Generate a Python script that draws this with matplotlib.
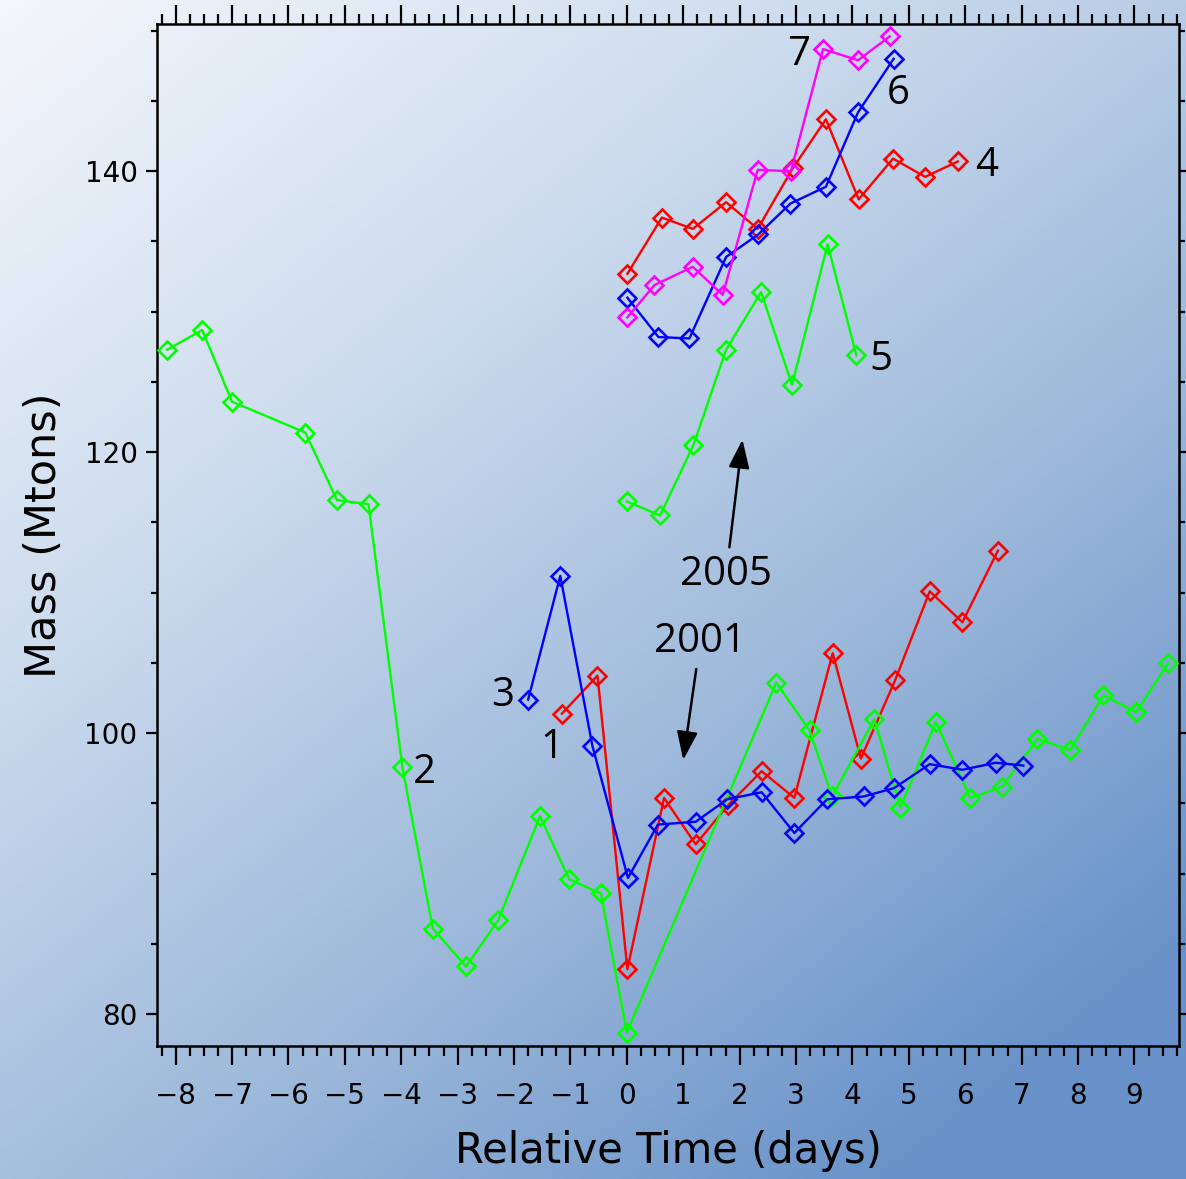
import numpy as np
import matplotlib
matplotlib.use("Agg")
import matplotlib.pyplot as plt
from matplotlib.ticker import MultipleLocator, FixedLocator

# ---------------- data ----------------
# 2001 events
s1_x = [-1.15, -0.52, 0.01, 0.66, 1.22, 1.80, 2.39, 2.97, 3.65, 4.15, 4.76, 5.37, 5.95, 6.58]
s1_y = [101.4, 104.1, 83.2, 95.4, 92.1, 94.9, 97.3, 95.4, 105.7, 98.2, 103.8, 110.1, 107.9, 113.0]

s2_x = [-8.15, -7.53, -7.00, -5.70, -5.14, -4.58, -3.98, -3.44, -2.85, -2.28, -1.54, -1.02, -0.46, 0.00,
        2.65, 3.24, 3.64, 4.39, 4.85, 5.48, 6.09, 6.66, 7.28, 7.86, 8.45, 9.03, 9.60]
s2_y = [127.3, 128.7, 123.6, 121.4, 116.6, 116.3, 97.6, 86.1, 83.4, 86.7, 94.1, 89.6, 88.6, 78.7,
        103.6, 100.2, 95.5, 101.0, 94.7, 100.8, 95.4, 96.2, 99.6, 98.8, 102.7, 101.5, 105.0]

s3_x = [-1.75, -1.18, -0.61, 0.02, 0.55, 1.22, 1.78, 2.39, 2.97, 3.55, 4.20, 4.74, 5.37, 5.95, 6.54, 7.03]
s3_y = [102.4, 111.2, 99.1, 89.7, 93.5, 93.7, 95.3, 95.8, 92.9, 95.3, 95.5, 96.1, 97.8, 97.4, 97.9, 97.7]

# 2005 events
s4_x = [0.01, 0.62, 1.17, 1.76, 2.32, 2.94, 3.53, 4.11, 4.72, 5.29, 5.87]
s4_y = [132.7, 136.7, 135.9, 137.8, 135.9, 140.2, 143.7, 138.0, 140.9, 139.6, 140.7]

s5_x = [0.00, 0.59, 1.18, 1.76, 2.38, 2.93, 3.56, 4.07]
s5_y = [116.5, 115.5, 120.5, 127.3, 131.4, 124.8, 134.8, 126.9]

s6_x = [0.01, 0.56, 1.11, 1.76, 2.33, 2.90, 3.53, 4.10, 4.73]
s6_y = [131.0, 128.2, 128.1, 133.9, 135.5, 137.7, 138.9, 144.2, 148.0]

s7_x = [0.01, 0.49, 1.17, 1.70, 2.32, 2.91, 3.48, 4.10, 4.66]
s7_y = [129.6, 131.9, 133.2, 131.2, 140.1, 140.0, 148.7, 147.9, 149.6]

x_ticks = list(range(-8, 10))
y_ticks = [80, 100, 120, 140]

series = [
    (s1_x, s1_y, "#ff0000"),
    (s2_x, s2_y, "#00ff00"),
    (s3_x, s3_y, "#0000ff"),
    (s4_x, s4_y, "#ff0000"),
    (s5_x, s5_y, "#00ff00"),
    (s6_x, s6_y, "#0000ff"),
    (s7_x, s7_y, "#ff00ff"),
]

# ---------------- figure ----------------
W, H = 1186, 1179
fig = plt.figure(figsize=(W / 100, H / 100), dpi=100)

# background gradient (whole figure)
bg = fig.add_axes([0, 0, 1, 1], zorder=-10)
ny, nx = 300, 300
u = np.linspace(0, 1, nx)[None, :]
v = np.linspace(0, 1, ny)[:, None]
t = np.clip(0.5 * u + 0.62 * v, 0, 1)
t = t / t.max()
stops_t = np.array([0.0, 0.35, 0.7, 1.0])
stops_c = np.array([[244, 247, 252], [205, 220, 238], [155, 183, 218], [104, 146, 201]]) / 255.0
img = np.zeros((ny, nx, 3))
for k in range(3):
    img[..., k] = np.interp(t, stops_t, stops_c[:, k])
bg.imshow(img, aspect="auto", extent=[0, 1, 0, 1], origin="upper")
bg.set_axis_off()

ax = fig.add_axes([157 / W, 1 - 1046 / H, (1179 - 157) / W, (1046 - 24) / H])
ax.set_facecolor("none")

for xs, ys, c in series:
    ax.plot(xs, ys, color=c, lw=1.7, marker="D", ms=9.5, mfc="none", mec=c, mew=1.9, zorder=3)

ax.set_xlim(-8.33, 9.79)
ax.set_ylim(77.74, 150.48)

ax.xaxis.set_major_locator(FixedLocator(x_ticks))
ax.xaxis.set_minor_locator(MultipleLocator(0.25))
ax.yaxis.set_major_locator(FixedLocator(y_ticks))
ax.yaxis.set_minor_locator(MultipleLocator(5))

ax.tick_params(axis="x", which="major", direction="out", length=14, width=1.6,
               top=True, bottom=True, labelsize=20, pad=12)
ax.tick_params(axis="x", which="minor", direction="out", length=7, width=1.6, top=True, bottom=True)
ax.tick_params(axis="y", which="major", direction="out", length=8, width=1.6,
               left=True, right=True, labelsize=20, pad=6)
ax.tick_params(axis="y", which="minor", direction="out", length=4.5, width=1.6, left=True, right=True)
for sp in ax.spines.values():
    sp.set_linewidth(1.8)

ax.set_xlabel("Relative Time (days)", fontsize=30, labelpad=14)
ax.set_ylabel("Mass (Mtons)", fontsize=31, labelpad=14)

ann_font = dict(family="Open Sans", fontsize=29, color="black")

# series number labels
ax.text(-3.79, 97.2, "2", ha="left", va="center", **ann_font)
ax.text(-2.2, 102.7, "3", ha="center", va="center", **ann_font)
ax.text(-1.33, 99.0, "1", ha="center", va="center", **ann_font)
ax.text(6.17, 140.4, "4", ha="left", va="center", **ann_font)
ax.text(4.3, 126.6, "5", ha="left", va="center", **ann_font)
ax.text(4.6, 145.5, "6", ha="left", va="center", **ann_font)
ax.text(3.05, 148.3, "7", ha="center", va="center", **ann_font)

# arrows
arrow_style = "-|>,head_length=0.6,head_width=0.22"
ax.annotate("2005", xy=(2.05, 120.9), xytext=(1.76, 111.3), ha="center", va="center",
            arrowprops=dict(arrowstyle=arrow_style, color="black", lw=1.8,
                            shrinkA=3, shrinkB=0),
            **ann_font)
ax.annotate("2001", xy=(1.0, 98.1), xytext=(1.3, 106.5), ha="center", va="center",
            arrowprops=dict(arrowstyle=arrow_style, color="black", lw=1.8,
                            shrinkA=3, shrinkB=0),
            **ann_font)

fig.savefig("out.png", dpi=100)
